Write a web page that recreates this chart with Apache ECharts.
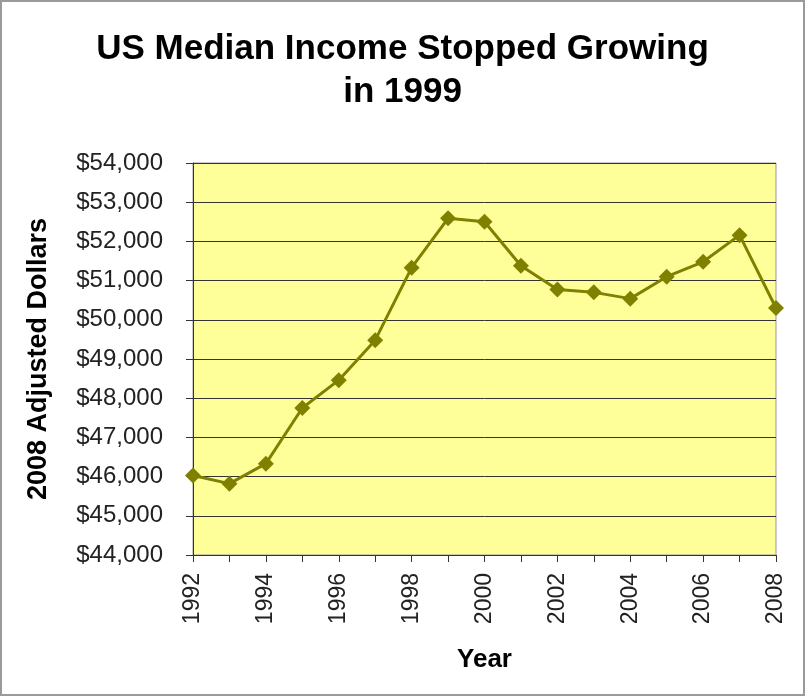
<!DOCTYPE html>
<html>
<head>
<meta charset="utf-8">
<script src="https://cdn.jsdelivr.net/npm/echarts@6/dist/echarts.min.js"></script>
<style>html,body{margin:0;padding:0;background:#fff}#c{width:805px;height:696px}</style>
</head>
<body>
<div id="c"></div>
<script>
var years = ['1992','1993','1994','1995','1996','1997','1998','1999','2000','2001','2002','2003','2004','2005','2006','2007','2008'];
var income = [46030, 45820, 46330, 47750, 48460, 49480, 51330, 52590, 52500, 51380, 50770, 50700, 50540, 51100, 51480, 52160, 50300];
var yMin = 44000, yMax = 54000, yStep = 1000;
var titleText = 'US Median Income Stopped Growing\nin 1999';
var xName = 'Year', yName = '2008 Adjusted Dollars';

var FONT = '"Liberation Sans", Arial, sans-serif';
var chart = echarts.init(document.getElementById('c'), null, {renderer: 'canvas'});
chart.setOption({
  animation: false,
  backgroundColor: '#ffffff',
  title: {
    text: titleText, left: 'center', top: 23,
    textStyle: {fontFamily: FONT, fontSize: 35, fontWeight: 'bold', color: '#000', lineHeight: 43}
  },
  graphic: [{
    type: 'rect', shape: {x: 1, y: 1, width: 803, height: 694},
    style: {fill: 'none', stroke: '#9a9a9a', lineWidth: 2}, silent: true
  }],
  grid: {left: 193, right: 29, top: 163, bottom: 141, show: true, backgroundColor: '#ffff99', borderColor: '#999999', borderWidth: 1},
  xAxis: {
    type: 'category', data: years, boundaryGap: false,
    name: xName, nameLocation: 'middle', nameGap: 92,
    nameTextStyle: {fontFamily: FONT, fontSize: 26, fontWeight: 'bold', color: '#000'},
    axisLine: {lineStyle: {color: '#333', width: 1}},
    axisTick: {show: true, interval: 0, length: 7, lineStyle: {color: '#333'}},
    axisLabel: {interval: 1, rotate: 90, fontFamily: FONT, fontSize: 23, color: '#222', margin: 18},
    splitLine: {show: false}
  },
  yAxis: {
    type: 'value', min: yMin, max: yMax, interval: yStep,
    name: yName, nameLocation: 'middle', nameGap: 141,
    nameTextStyle: {fontFamily: FONT, fontSize: 27, fontWeight: 'bold', color: '#000'},
    axisLine: {show: true, lineStyle: {color: '#333', width: 1}},
    axisTick: {show: true, length: 7, lineStyle: {color: '#333'}},
    axisLabel: {fontFamily: FONT, fontSize: 24, color: '#222', margin: 30,
      formatter: function (v) { return '$' + v.toLocaleString('en-US'); }},
    splitLine: {show: true, lineStyle: {color: '#333', width: 1}}
  },
  series: [{
    type: 'line', data: income,
    symbol: 'diamond', symbolSize: 16,
    lineStyle: {color: '#808000', width: 3},
    itemStyle: {color: '#808000'}
  }]
});
</script>
</body>
</html>
